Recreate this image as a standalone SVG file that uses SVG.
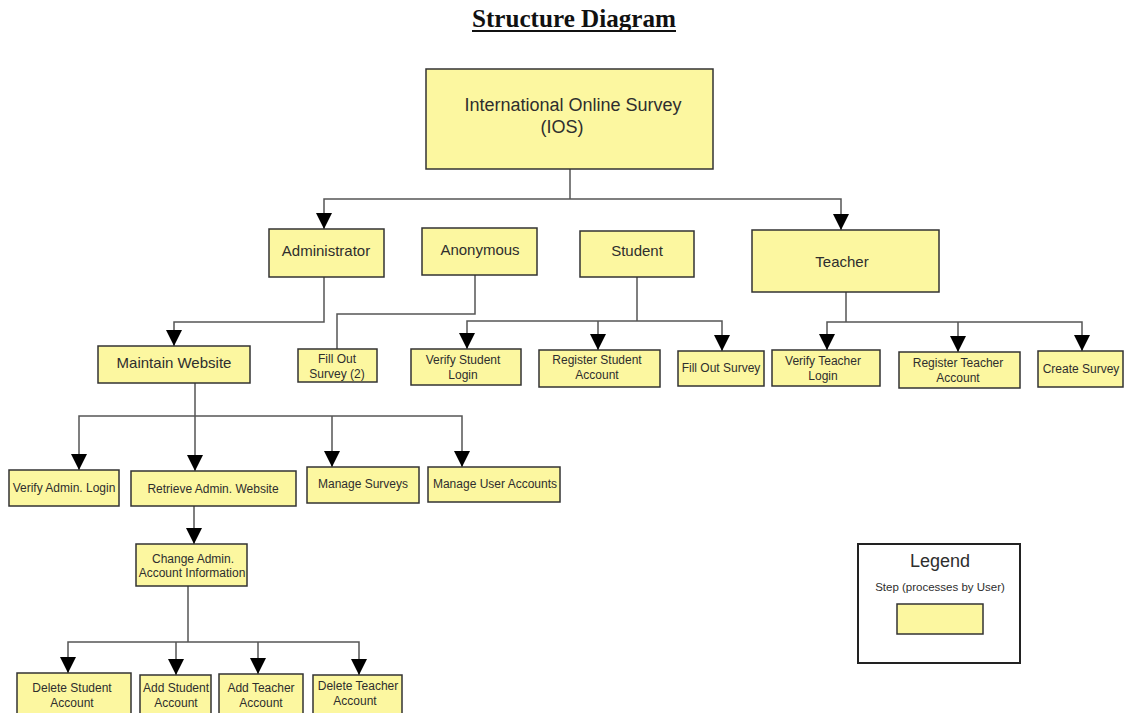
<svg xmlns="http://www.w3.org/2000/svg" width="1124" height="713" viewBox="0 0 1124 713">
<defs>
<marker id="arr" viewBox="0 0 16 16" refX="16" refY="8" markerWidth="16" markerHeight="16" markerUnits="userSpaceOnUse" orient="auto">
<path d="M0,0 L16,8 L0,16 z" fill="#000"/>
</marker>
<style>
.box{fill:#FCF7A0;stroke:#333;stroke-width:1.5}
.t{font-family:"Liberation Sans",Arial,sans-serif;fill:#2e2e2e;text-anchor:middle}
.s12{font-size:12px}
.s15{font-size:15px}
.s18{font-size:18px}
.c{fill:none;stroke:#555;stroke-width:1.5}
.a{marker-end:url(#arr)}
</style>
</defs>
<rect width="1124" height="713" fill="#fff"/>
<g id="title">
<text x="574" y="27" font-family="'Liberation Serif','Times New Roman',serif" font-weight="bold" font-size="25" text-anchor="middle" textLength="204" lengthAdjust="spacingAndGlyphs" fill="#111">Structure Diagram</text>
<line x1="472" y1="31" x2="676" y2="31" stroke="#111" stroke-width="2"/>
</g>
<g id="connectors">
<polyline class="c" points="570,169 570,199"/>
<polyline class="c a" points="570,199 324,199 324,229"/>
<polyline class="c a" points="570,199 841,199 841,230"/>
<polyline class="c a" points="324,277 324,322 174,322 174,346"/>
<polyline class="c" points="475,275 475,314 337,314 337,349"/>
<polyline class="c" points="637,277 637,321"/>
<polyline class="c a" points="637,321 467,321 467,349"/>
<polyline class="c a" points="598,321 598,350"/>
<polyline class="c a" points="637,321 722,321 722,351"/>
<polyline class="c" points="846,292 846,322"/>
<polyline class="c a" points="846,322 827,322 827,350"/>
<polyline class="c a" points="958,322 958,352"/>
<polyline class="c a" points="846,322 1082,322 1082,351"/>
<polyline class="c" points="195,383 195,416"/>
<polyline class="c a" points="195,416 79,416 79,470"/>
<polyline class="c a" points="195,416 195,471"/>
<polyline class="c a" points="332,416 332,467"/>
<polyline class="c a" points="195,416 462,416 462,467"/>
<polyline class="c a" points="194,506 194,544"/>
<polyline class="c" points="188,586 188,642"/>
<polyline class="c a" points="188,642 68,642 68,673"/>
<polyline class="c a" points="176,642 176,675"/>
<polyline class="c a" points="258,642 258,674"/>
<polyline class="c a" points="188,642 359,642 359,675"/>
</g>
<g id="ios">
<rect class="box" x="426" y="69" width="287" height="100"/>
<text class="t s18" x="573" y="111">International Online Survey</text>
<text class="t s18" x="562" y="133">(IOS)</text>
</g>
<g id="administrator">
<rect class="box" x="269" y="229" width="115" height="48"/>
<text class="t s15" x="326" y="256">Administrator</text>
</g>
<g id="anonymous">
<rect class="box" x="422" y="228" width="115" height="47"/>
<text class="t s15" x="480" y="255">Anonymous</text>
</g>
<g id="student">
<rect class="box" x="580" y="231" width="114" height="46"/>
<text class="t s15" x="637" y="256">Student</text>
</g>
<g id="teacher">
<rect class="box" x="752" y="230" width="187" height="62"/>
<text class="t s15" x="842" y="267">Teacher</text>
</g>
<g id="maintain-website">
<rect class="box" x="98" y="346" width="152" height="37"/>
<text class="t s15" x="174" y="368">Maintain Website</text>
</g>
<g id="fill-out-survey-2">
<rect class="box" x="298" y="349" width="79" height="33"/>
<text class="t s12" x="337" y="363">Fill Out</text>
<text class="t s12" x="337" y="378">Survey (2)</text>
</g>
<g id="verify-student-login">
<rect class="box" x="411" y="349" width="110" height="36"/>
<text class="t s12" x="463" y="364">Verify Student</text>
<text class="t s12" x="463" y="379">Login</text>
</g>
<g id="register-student-account">
<rect class="box" x="539" y="350" width="121" height="37"/>
<text class="t s12" x="597" y="364">Register Student</text>
<text class="t s12" x="597" y="379">Account</text>
</g>
<g id="fill-out-survey">
<rect class="box" x="678" y="351" width="86" height="35"/>
<text class="t s12" x="721" y="372">Fill Out Survey</text>
</g>
<g id="verify-teacher-login">
<rect class="box" x="772" y="350" width="108" height="36"/>
<text class="t s12" x="823" y="365">Verify Teacher</text>
<text class="t s12" x="823" y="380">Login</text>
</g>
<g id="register-teacher-account">
<rect class="box" x="899" y="352" width="121" height="36"/>
<text class="t s12" x="958" y="367">Register Teacher</text>
<text class="t s12" x="958" y="382">Account</text>
</g>
<g id="create-survey">
<rect class="box" x="1038" y="351" width="85" height="36"/>
<text class="t s12" x="1081" y="373">Create Survey</text>
</g>
<g id="verify-admin-login">
<rect class="box" x="9" y="470" width="110" height="36"/>
<text class="t s12" x="64" y="492">Verify Admin. Login</text>
</g>
<g id="retrieve-admin-website">
<rect class="box" x="131" y="471" width="165" height="35"/>
<text class="t s12" x="213" y="493">Retrieve Admin. Website</text>
</g>
<g id="manage-surveys">
<rect class="box" x="307" y="467" width="112" height="36"/>
<text class="t s12" x="363" y="488">Manage Surveys</text>
</g>
<g id="manage-user-accounts">
<rect class="box" x="428" y="467" width="132" height="35"/>
<text class="t s12" x="495" y="488">Manage User Accounts</text>
</g>
<g id="change-admin-account">
<rect class="box" x="136" y="544" width="111" height="42"/>
<text class="t s12" x="193" y="563">Change Admin.</text>
<text class="t s12" x="192" y="577">Account Information</text>
</g>
<g id="delete-student-account">
<rect class="box" x="17" y="673" width="114" height="50"/>
<text class="t s12" x="72" y="692">Delete Student</text>
<text class="t s12" x="72" y="707">Account</text>
</g>
<g id="add-student-account">
<rect class="box" x="140" y="675" width="71" height="50"/>
<text class="t s12" x="176" y="692">Add Student</text>
<text class="t s12" x="176" y="707">Account</text>
</g>
<g id="add-teacher-account">
<rect class="box" x="219" y="674" width="84" height="50"/>
<text class="t s12" x="261" y="692">Add Teacher</text>
<text class="t s12" x="261" y="707">Account</text>
</g>
<g id="delete-teacher-account">
<rect class="box" x="313" y="675" width="89" height="50"/>
<text class="t s12" x="358" y="690">Delete Teacher</text>
<text class="t s12" x="355" y="705">Account</text>
</g>
<g id="legend">
<rect x="858" y="544" width="162" height="119" fill="#fff" stroke="#222" stroke-width="2"/>
<text class="t s18" x="940" y="567">Legend</text>
<text class="t" font-size="11.5" x="940" y="591">Step (processes by User)</text>
<rect class="box" x="897" y="604" width="86" height="30"/>
</g>
</svg>
